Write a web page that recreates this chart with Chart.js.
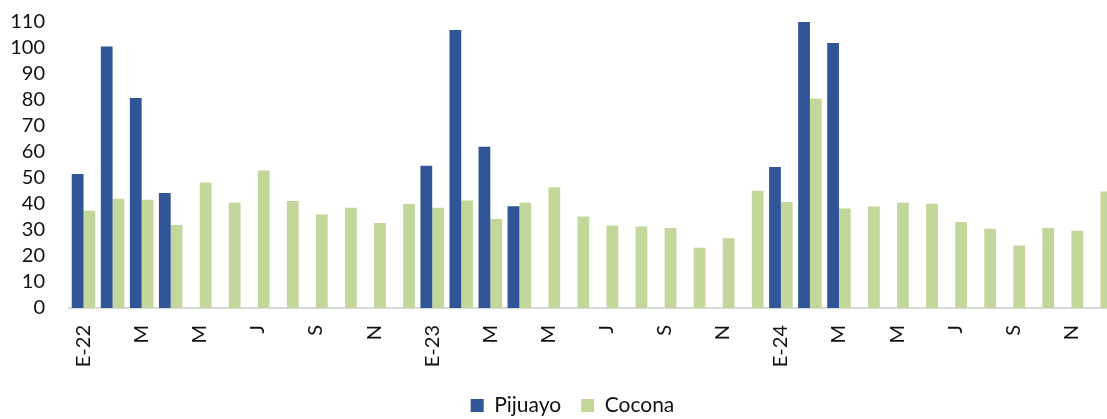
<!DOCTYPE html>
<html lang="es">
<head>
    <meta charset="UTF-8">
    <title>Pijuayo y Cocona</title>
    <script src="https://cdn.jsdelivr.net/npm/chart.js"></script>
    <style>
        body {
            margin: 0;
            overflow: hidden;
            background: #fff;
        }
        .chart-box {
            position: relative;
            width: 1115px;
            height: 419px;
        }
    </style>
</head>
<body>
    <div class="chart-box">
        <canvas id="barChart"></canvas>
    </div>

    <script>
        // meses E-22 .. D-24
        const months = [
            'E-22', 'F', 'M', 'A', 'M', 'J', 'J', 'A', 'S', 'O', 'N', 'D',
            'E-23', 'F', 'M', 'A', 'M', 'J', 'J', 'A', 'S', 'O', 'N', 'D',
            'E-24', 'F', 'M', 'A', 'M', 'J', 'J', 'A', 'S', 'O', 'N', 'D'
        ];

        const pijuayo = [
            51.5, 100.6, 80.8, 44.2, null, null, null, null, null, null, null, null,
            54.7, 106.9, 62.0, 39.1, null, null, null, null, null, null, null, null,
            54.2, 110, 101.9, null, null, null, null, null, null, null, null, null
        ];

        const cocona = [
            37.4, 42.0, 41.6, 31.9, 48.3, 40.5, 52.9, 41.2, 36.0, 38.6, 32.7, 40.0,
            38.6, 41.3, 34.2, 40.5, 46.4, 35.2, 31.7, 31.3, 30.8, 23.2, 26.8, 45.1,
            40.8, 80.5, 38.3, 39.0, 40.5, 40.1, 33.1, 30.5, 24.0, 30.8, 29.7, 44.8
        ];

        const yTicks = [0, 10, 20, 30, 40, 50, 60, 70, 80, 90, 100, 110];

        Chart.defaults.font.family = 'Lato, "Open Sans", sans-serif';
        Chart.defaults.color = '#111';

        // nudge the legend to where it sits in the original
        const legendShift = {
            id: 'legendShift',
            afterLayout(chart) {
                const lg = chart.legend;
                if (!lg) return;
                lg.left += 15; lg.right += 15;
                lg.top += 7; lg.bottom += 7;
            }
        };

        const ctx = document.getElementById('barChart').getContext('2d');
        new Chart(ctx, {
            type: 'bar',
            data: {
                labels: months,
                datasets: [
                    {
                        label: 'Pijuayo',
                        data: pijuayo,
                        backgroundColor: '#2F5597'
                    },
                    {
                        label: 'Cocona',
                        data: cocona,
                        backgroundColor: '#C4D79B'
                    }
                ]
            },
            options: {
                responsive: true,
                maintainAspectRatio: false,
                animation: false,
                categoryPercentage: 0.81,
                barPercentage: 1,
                layout: {
                    padding: { top: 22, right: 0, bottom: 0, left: 0 }
                },
                plugins: {
                    tooltip: { enabled: false },
                    legend: {
                        position: 'bottom',
                        labels: {
                            boxWidth: 13,
                            boxHeight: 13,
                            padding: 20,
                            color: '#111',
                            font: { size: 21 }
                        }
                    }
                },
                scales: {
                    x: {
                        grid: { display: false, drawTicks: false },
                        border: { display: true, color: '#D9D9D9', width: 2 },
                        afterFit: function (scale) {
                            scale.height = 60;
                            scale.paddingLeft = 0;
                            scale.paddingRight = 0;
                        },
                        ticks: {
                            autoSkip: false,
                            maxRotation: 90,
                            minRotation: 90,
                            padding: 17,
                            font: { size: 20 },
                            callback: function (val, i) {
                                return i % 2 === 0 ? months[i] : '';
                            }
                        }
                    },
                    y: {
                        min: 0,
                        max: 110,
                        grid: { display: false, drawTicks: false },
                        border: { display: false },
                        afterFit: function (scale) {
                            scale.width = 69;
                            scale.paddingTop = 0;
                            scale.paddingBottom = 0;
                        },
                        afterBuildTicks: function (scale) {
                            scale.ticks = yTicks.map(v => ({ value: v }));
                        },
                        ticks: {
                            autoSkip: false,
                            padding: 24,
                            font: { size: 20 }
                        }
                    }
                }
            },
            plugins: [legendShift]
        });
    </script>
</body>
</html>
